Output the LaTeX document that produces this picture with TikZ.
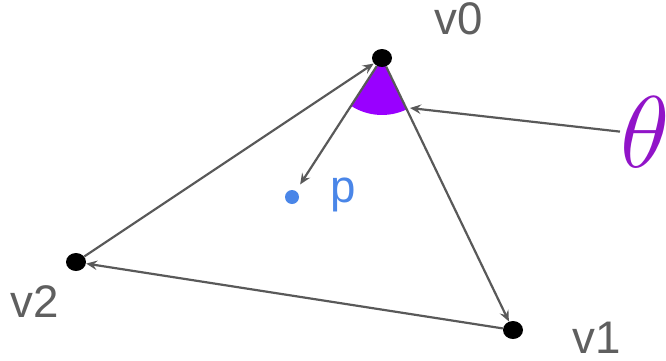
\documentclass[tikz,border=0pt]{standalone}
\usepackage{fix-cm}
\usepackage{fontspec}
\setmainfont{Liberation Sans}
\usepackage{xcolor}
\usetikzlibrary{arrows.meta,shapes.geometric}

\definecolor{edgegray}{RGB}{89,89,89}
\definecolor{labelgray}{RGB}{95,95,95}
\definecolor{anglepurple}{RGB}{153,0,255}
\definecolor{thetapurple}{RGB}{145,20,200}
\definecolor{pblue}{RGB}{74,134,232}

\begin{document}
\begin{tikzpicture}[x=0.02cm,y=0.02cm,
        vert/.style={ellipse,fill=black,inner sep=0pt,minimum width=0.4cm,minimum height=0.36cm},
        lbl/.style={anchor=base west,inner sep=0pt,text=labelgray,font=\fontsize{26}{30}\selectfont},
        edge/.style={draw=edgegray,line width=1.25pt,-{Stealth[length=0.22cm,width=0.19cm,inset=0.08cm]}}]
        \useasboundingbox (0,0) rectangle (666,360);
        \coordinate (c0) at (382,302);
        % angle at v0
        \fill[anglepurple] (c0) -- ++(237.1:1.14cm) arc[start angle=237.1,end angle=295.7,radius=1.14cm] -- cycle;
        \node[vert] at (c0) (v0) {};
        \node[vert] at (513,30) (v1) {};
        \node[vert] at (76,98) (v2) {};
        \node[circle,fill=pblue,inner sep=0pt,minimum size=0.28cm,outer sep=0.16cm] at (292,163) (p) {};
        \node[lbl] at (434,326) (v0lbl) {v0};
        \node[lbl] at (572,7) (v1lbl) {v1};
        \node[lbl] at (10,43) (v2lbl) {v2};
        \node[lbl,text=pblue] at (330,158) (plbl) {p};
        \node[anchor=base west,inner sep=0pt,text=thetapurple,font=\fontsize{58}{60}\selectfont] at (620,193) (theta) {$\theta$};
        \coordinate (thetatip) at (410,252);
        \draw[edge] (v2) -- (v0);
        \draw[edge] (v0) -- (v1);
        \draw[edge] (v1) -- (v2);
        \draw[edge] (v0) -- (p);
        \draw[edge] (theta.west) -- (thetatip);
    \end{tikzpicture}
\end{document}
